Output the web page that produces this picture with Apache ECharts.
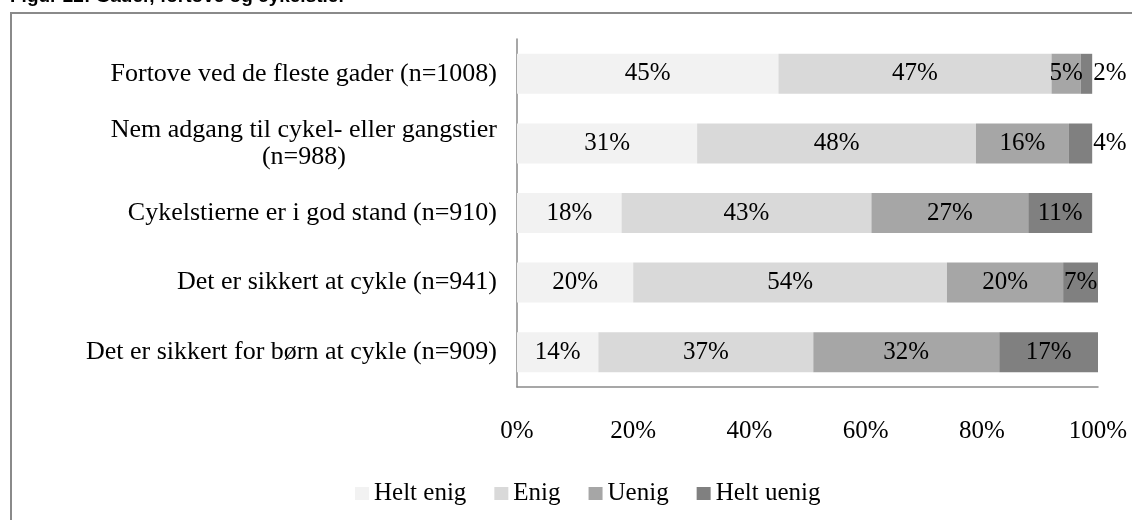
<!DOCTYPE html>
<html><head><meta charset="utf-8">
<script src="https://cdn.jsdelivr.net/npm/echarts@6/dist/echarts.min.js"></script>
<style>html,body{margin:0;padding:0;background:#fff}#c{width:1132px;height:520px}</style>
</head><body><div id="c"></div>
<script>
const categories = [
  'Fortove ved de fleste gader (n=1008)',
  'Nem adgang til cykel- eller gangstier\n(n=988)',
  'Cykelstierne er i god stand (n=910)',
  'Det er sikkert at cykle (n=941)',
  'Det er sikkert for børn at cykle (n=909)'
];
const seriesNames = ['Helt enig', 'Enig', 'Uenig', 'Helt uenig'];
const heltEnig = [45, 31, 18, 20, 14];
const enig = [47, 48, 43, 54, 37];
const uenig = [5, 16, 27, 20, 32];
const heltUenig = [2, 4, 11, 7, 17];
const xTicks = [0, 20, 40, 60, 80, 100];
const colors = ['#f2f2f2', '#d9d9d9', '#a6a6a6', '#808080'];

const FONT = '"Liberation Serif", "Times New Roman", serif';
const allData = [heltEnig, enig, uenig, heltUenig];

const chart = echarts.init(document.getElementById('c'), null, {renderer: 'canvas'});
chart.setOption({
  animation: false,
  backgroundColor: '#fff',
  graphic: [
    {type: 'rect', shape: {x: 11, y: 13, width: 1300, height: 700}, style: {fill: 'none', stroke: '#8a8a8a', lineWidth: 2}, z: -1},
    {type: 'text', x: 10, y: 6, style: {text: 'Figur 22: Gader, fortove og cykelstier', font: 'bold 19px "Liberation Sans", Arial, sans-serif', fill: '#000', textVerticalAlign: 'bottom'}}
  ],
  legend: {
    data: seriesNames,
    bottom: 9,
    left: 350,
    icon: 'rect',
    itemWidth: 14, itemHeight: 13,
    itemGap: 28,
    textStyle: {fontFamily: FONT, fontSize: 25, color: '#000'}
  },
  grid: {left: 517, right: 34, top: 39, bottom: 133, containLabel: false},
  xAxis: {
    type: 'value', min: 0, max: 100, interval: 20,
    axisLine: {show: true, lineStyle: {color: '#8a8a8a', width: 1.5}},
    axisTick: {show: false},
    splitLine: {show: false},
    axisLabel: {formatter: v => v + '%', fontFamily: FONT, fontSize: 25, color: '#000', margin: 32}
  },
  yAxis: {
    type: 'category', data: categories, inverse: true,
    axisLine: {show: true, lineStyle: {color: '#8a8a8a', width: 1.5}},
    axisTick: {show: false},
    axisLabel: {
      fontFamily: FONT, fontSize: 26, color: '#000', margin: 20, lineHeight: 27,
      formatter: v => v.indexOf('\n') >= 0 ? v.split('\n').map((s, i) => i === 0 ? '{a|' + s + '}' : '{b|' + s + '}').join('\n') : v,
      rich: {
        a: {fontFamily: FONT, fontSize: 26, color: '#000', lineHeight: 27},
        b: {fontFamily: FONT, fontSize: 26, color: '#000', lineHeight: 27, width: 384, align: 'center'}
      }
    }
  },
  series: seriesNames.map((name, si) => ({
    name, type: 'bar', stack: 'total', barWidth: 40,
    itemStyle: {color: colors[si]},
    label: {show: true, position: 'inside', formatter: p => p.value + '%', fontFamily: FONT, fontSize: 25, color: '#000'},
    data: allData[si].map(v => (si === 3 && v < 5) ? {value: v, label: {position: 'right', distance: 1}} : v)
  }))
});
</script></body></html>
